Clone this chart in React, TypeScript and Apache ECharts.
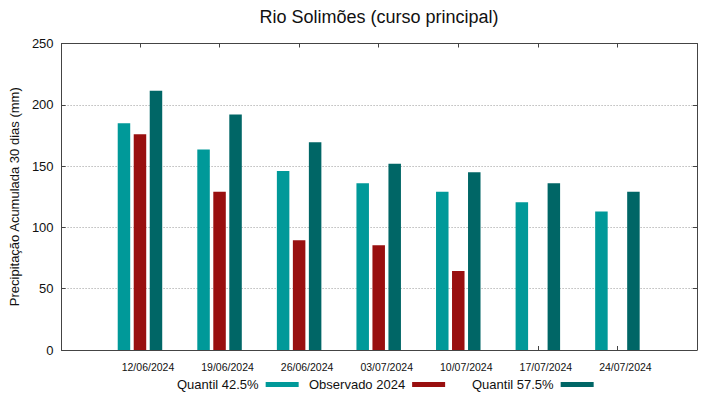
import React, { useEffect, useRef } from "react";
import * as echarts from "echarts";

const dates = ["12/06/2024", "19/06/2024", "26/06/2024", "03/07/2024", "10/07/2024", "17/07/2024", "24/07/2024"];
const quantil425 = [185, 163.5, 146, 136, 129, 120.5, 113];
const observado2024: (number | null)[] = [176, 129, 89.5, 85.5, 64.5, null, null];
const quantil575 = [211.5, 192, 169.5, 152, 145, 136, 129];

const FONT = "'Liberation Sans', Arial, sans-serif";
const C1 = "#009999";
const C2 = "#990f0f";
const C3 = "#006666";

export default function App() {
  const ref = useRef<HTMLDivElement>(null);
  useEffect(() => {
    document.body.style.margin = "0";
    const chart = echarts.init(ref.current!, null, { renderer: "svg" });
    const idx = dates.map((_, i) => i);
    const toPairs = (arr: (number | null)[]) =>
      arr.map((v, i) => (v == null ? null : [i, v])).filter((d) => d !== null);
    const xMin = -0.985;
    const xMax = 7;
    const frame = { lineStyle: { color: "#444", width: 1 } };
    const legendBase = {
      orient: "horizontal",
      align: "right",
      top: 378,
      padding: 0,
      itemWidth: 33,
      itemHeight: 5,
      icon: "rect",
      textStyle: { fontFamily: FONT, fontSize: 13, color: "#111", padding: [0, 2, 0, 0] },
    };
    chart.setOption({
      animation: false,
      backgroundColor: "#fff",
      title: {
        text: "Rio Solimões (curso principal)",
        left: 374,
        textAlign: "center",
        top: 3,
        textStyle: { fontFamily: FONT, fontSize: 18, fontWeight: "normal", color: "#111" },
      },
      legend: [
        { ...legendBase, left: 177, data: ["Quantil 42.5%"] },
        { ...legendBase, left: 309, data: ["Observado 2024"] },
        { ...legendBase, left: 472, data: ["Quantil 57.5%"] },
      ],
      grid: { left: 59, right: 22, top: 43.5, bottom: 49, containLabel: false },
      xAxis: [
        {
          type: "value",
          min: xMin,
          max: xMax,
          position: "bottom",
          axisLine: { show: true, onZero: false, ...frame },
          axisTick: { show: true, inside: true, length: 4, customValues: idx, lineStyle: { color: "#444" } },
          axisLabel: {
            customValues: idx,
            formatter: (v: number) => dates[Math.round(v)] ?? "",
            fontFamily: FONT,
            fontSize: 10.5,
            color: "#111",
            margin: 11,
            padding: [0, 0, 0, 16],
          },
          splitLine: { show: false },
        },
        {
          type: "value",
          min: xMin,
          max: xMax,
          position: "top",
          axisLine: { show: true, onZero: false, ...frame },
          axisTick: { show: true, inside: true, length: 4, customValues: idx, lineStyle: { color: "#444" } },
          axisLabel: { show: false },
          splitLine: { show: false },
        },
      ],
      yAxis: [
        {
          type: "value",
          min: 0,
          max: 250,
          interval: 50,
          position: "left",
          name: "Precipitação Acumulada 30 dias (mm)",
          nameLocation: "middle",
          nameGap: 33,
          nameTextStyle: { fontFamily: FONT, fontSize: 13, color: "#111" },
          axisLine: { show: true, onZero: false, ...frame },
          axisTick: { show: true, inside: true, length: 4, lineStyle: { color: "#444" } },
          axisLabel: { fontFamily: FONT, fontSize: 13, color: "#111", margin: 8 },
          splitLine: { show: true, lineStyle: { color: "#9a9a9a", type: [1, 2], width: 1 } },
        },
        {
          type: "value",
          min: 0,
          max: 250,
          interval: 50,
          position: "right",
          axisLine: { show: true, onZero: false, ...frame },
          axisTick: { show: true, inside: true, length: 4, lineStyle: { color: "#444" } },
          axisLabel: { show: false },
          splitLine: { show: false },
        },
      ],
      series: [
        {
          name: "Quantil 42.5%",
          type: "bar",
          data: toPairs(quantil425),
          barWidth: 12.5,
          barGap: "28%",
          itemStyle: { color: C1 },
        },
        {
          name: "Observado 2024",
          type: "bar",
          data: toPairs(observado2024),
          barWidth: 12.5,
          barGap: "28%",
          itemStyle: { color: C2 },
        },
        {
          name: "Quantil 57.5%",
          type: "bar",
          data: toPairs(quantil575),
          barWidth: 12.5,
          barGap: "28%",
          itemStyle: { color: C3 },
        },
      ],
    } as any);
    return () => chart.dispose();
  }, []);
  return <div ref={ref} style={{ width: 719, height: 399 }} />;
}
